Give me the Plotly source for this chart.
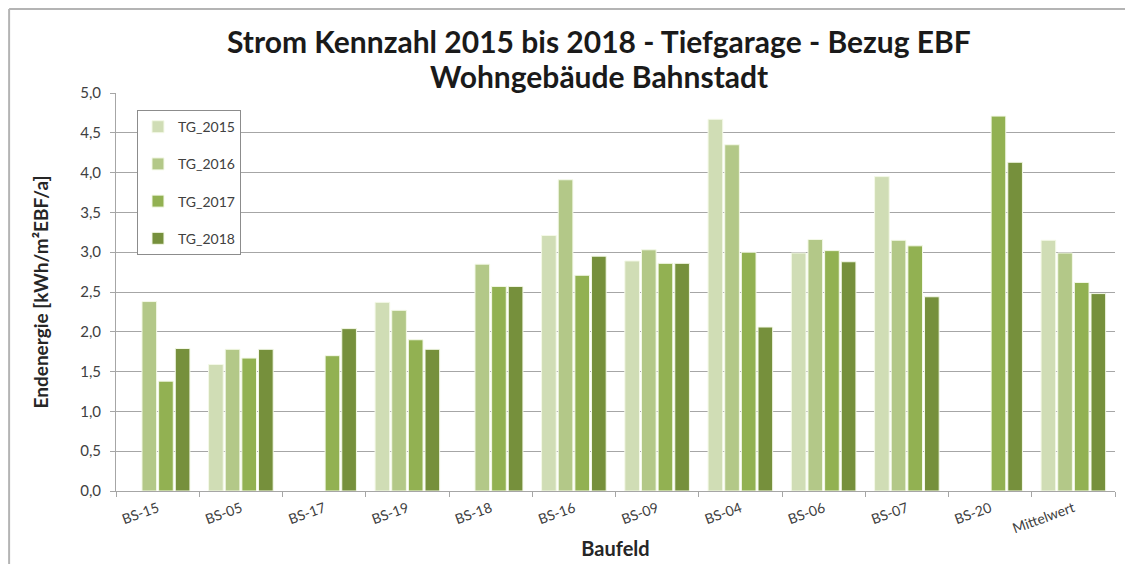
import plotly.graph_objects as go

categories = ["BS-15", "BS-05", "BS-17", "BS-19", "BS-18", "BS-16", "BS-09",
              "BS-04", "BS-06", "BS-07", "BS-20", "Mittelwert"]
tg_2015 = [None, 1.59, None, 2.37, None, 3.21, 2.89, 4.67, 2.99, 3.95, None, 3.15]
tg_2016 = [2.38, 1.78, None, 2.27, 2.85, 3.91, 3.03, 4.35, 3.16, 3.15, None, 2.99]
tg_2017 = [1.38, 1.67, 1.70, 1.90, 2.57, 2.71, 2.86, 3.00, 3.02, 3.08, 4.71, 2.62]
tg_2018 = [1.79, 1.78, 2.04, 1.78, 2.57, 2.95, 2.86, 2.06, 2.88, 2.44, 4.13, 2.48]
y_ticks = [0, 0.5, 1.0, 1.5, 2.0, 2.5, 3.0, 3.5, 4.0, 4.5, 5.0]
title_lines = ["Strom Kennzahl 2015 bis 2018 - Tiefgarage - Bezug EBF",
               "Wohngebäude Bahnstadt"]

series = [("TG_2015", tg_2015, "#d0ddb5"),
          ("TG_2016", tg_2016, "#b3c888"),
          ("TG_2017", tg_2017, "#92b152"),
          ("TG_2018", tg_2018, "#76903c")]

fig = go.Figure()
for name, vals, col in series:
    fig.add_trace(go.Bar(x=categories, y=vals, name=name, legendgroup=name,
                         marker=dict(color=col, line=dict(color="#f4f9e8", width=1))))

font_main = "Lato, Open Sans, sans-serif"
# page body has an 8px offset; margins compensate
fig.update_layout(
    width=1133, height=564,
    paper_bgcolor="white", plot_bgcolor="white",
    separators=",.",
    margin=dict(l=108, r=26, t=85, b=81),
    barmode="group", bargap=0.2, bargroupgap=0.12,
    font=dict(family=font_main, color="#404040"),
    legend=dict(x=0.021, y=0.957, xanchor="left", yanchor="top",
                bgcolor="white", bordercolor="#8c8c8c", borderwidth=1,
                font=dict(size=14, color="#404040"), tracegroupgap=16,
                itemwidth=30),
    showlegend=True,
)
for txt, yp in zip(title_lines, [1.1307, 1.0427]):
    fig.add_annotation(text="<b>" + txt + "</b>",
                       xref="paper", yref="paper", x=0.483, y=yp,
                       xanchor="center", yanchor="middle", showarrow=False,
                       font=dict(family=font_main, size=30, color="#1a1a1a"))
fig.update_yaxes(range=[0, 5], tickvals=y_ticks, tickformat=".1f",
                 showgrid=True, gridcolor="#a6a6a6", gridwidth=1,
                 showline=True, linecolor="#a6a6a6", ticks="outside", ticklen=5,
                 tickcolor="#a6a6a6", tickfont=dict(size=15, color="#404040"),
                 ticklabelstandoff=6,
                 title=dict(text="<b>Endenergie [kWh/m²EBF/a]</b>",
                            font=dict(size=19, color="#262626"), standoff=26),
                 zeroline=False)
fig.update_xaxes(showline=True, linecolor="#a6a6a6", ticks="outside", ticklen=5,
                 tickcolor="#a6a6a6", tickson="boundaries", tickangle=-20,
                 tickfont=dict(size=14, color="#404040"), ticklabelstandoff=3,
                 title=dict(text="<b>Baufeld</b>", font=dict(size=20, color="#262626"), standoff=6))
fig.add_shape(type="line", xref="paper", yref="paper",
              x0=-0.107, x1=-0.107, y0=-0.3, y1=1.211,
              line=dict(color="#b4b4b4", width=2))
fig.add_shape(type="line", xref="paper", yref="paper",
              x0=-0.107, x1=1.1, y0=1.211, y1=1.211,
              line=dict(color="#b4b4b4", width=2))

fig.write_html("out.html")
